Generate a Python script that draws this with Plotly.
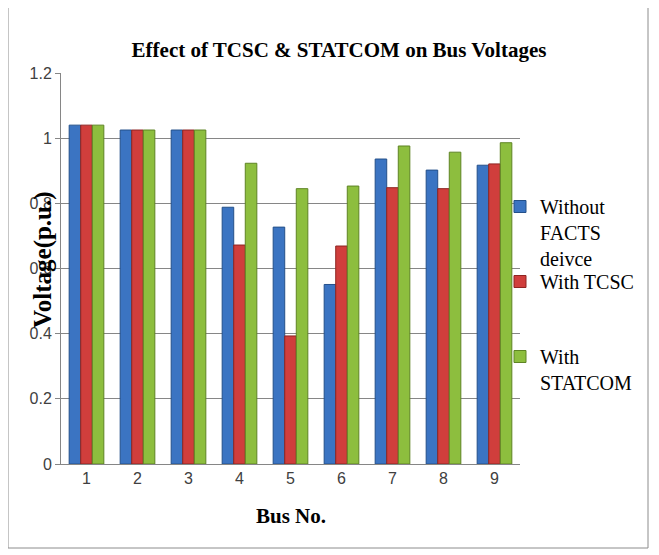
import plotly.graph_objects as go

buses = ["1", "2", "3", "4", "5", "6", "7", "8", "9"]
without_facts = [1.04, 1.025, 1.025, 0.788, 0.727, 0.551, 0.936, 0.902, 0.917]
with_tcsc = [1.04, 1.025, 1.025, 0.672, 0.393, 0.669, 0.848, 0.845, 0.921]
with_statcom = [1.04, 1.025, 1.025, 0.923, 0.845, 0.853, 0.976, 0.957, 0.986]

series_names = ["Without<br>FACTS<br>deivce", "With TCSC", "With<br>STATCOM"]
colors = ["#3B74C2", "#D03E3C", "#8DBE3E"]
edge_colors = ["#24508A", "#8E2422", "#5E8424"]
legend_ids = ["legend", "legend2", "legend3"]

fig = go.Figure()
for name, vals, c, ec, lg in zip(series_names, [without_facts, with_tcsc, with_statcom],
                                 colors, edge_colors, legend_ids):
    fig.add_trace(go.Bar(x=buses, y=vals, name=name, legend=lg,
                         marker=dict(color=c, line=dict(color=ec, width=1))))

O = 8  # page body margin offset
W, H = 659 - O, 555 - O
# plot area in page pixels
L, R, T, B = 61, 520, 73, 464

def px(x):
    return (x - L) / (R - L)

def py(y):
    return (B - y) / (B - T)

serif = "Liberation Serif"

def legend_at(top):
    return dict(x=px(500), xanchor="left", y=py(top), yanchor="top",
                font=dict(family=serif, size=20, color="black"),
                valign="top", bgcolor="rgba(0,0,0,0)")

fig.update_layout(
    width=W, height=H,
    margin=dict(l=L - O, r=W - (R - O), t=T - O, b=H - (B - O)),
    paper_bgcolor="white", plot_bgcolor="white",
    barmode="group", bargap=0.32, bargroupgap=0,
    title=dict(text="<b>Effect of TCSC &amp; STATCOM on Bus Voltages</b>",
               font=dict(family=serif, size=21, color="black"),
               x=px(339), xanchor="center", xref="paper",
               y=1 - (50 - O) / H, yanchor="middle"),
    legend=legend_at(187),
    legend2=legend_at(262),
    legend3=legend_at(337),
    xaxis=dict(type="category", showgrid=False, showline=True, linecolor="#868686",
               ticks="",
               tickfont=dict(family="Liberation Sans", size=16, color="#404040")),
    yaxis=dict(range=[0, 1.2], dtick=0.2, showgrid=True, gridcolor="#868686",
               showline=True, linecolor="#868686", ticks="outside", ticklen=5,
               tickcolor="#868686", tickformat="~g", zeroline=False,
               tickfont=dict(family="Liberation Sans", size=16, color="#404040")),
    showlegend=True,
)

fig.add_annotation(text="<b>Voltage(p.u.)</b>", textangle=-90, xref="paper", yref="paper",
                   x=px(27), y=py(260), showarrow=False,
                   font=dict(family=serif, size=25, color="black"))
fig.add_annotation(text="<b>Bus No.</b>", xref="paper", yref="paper",
                   x=px(291), y=py(530), showarrow=False,
                   font=dict(family=serif, size=21, color="black"))

fig.add_shape(type="rect", xref="paper", yref="paper",
              x0=px(8), x1=px(648), y0=py(548), y1=py(7),
              line=dict(color="#8C8C8C", width=1), layer="below")

fig.write_html("out.html")
